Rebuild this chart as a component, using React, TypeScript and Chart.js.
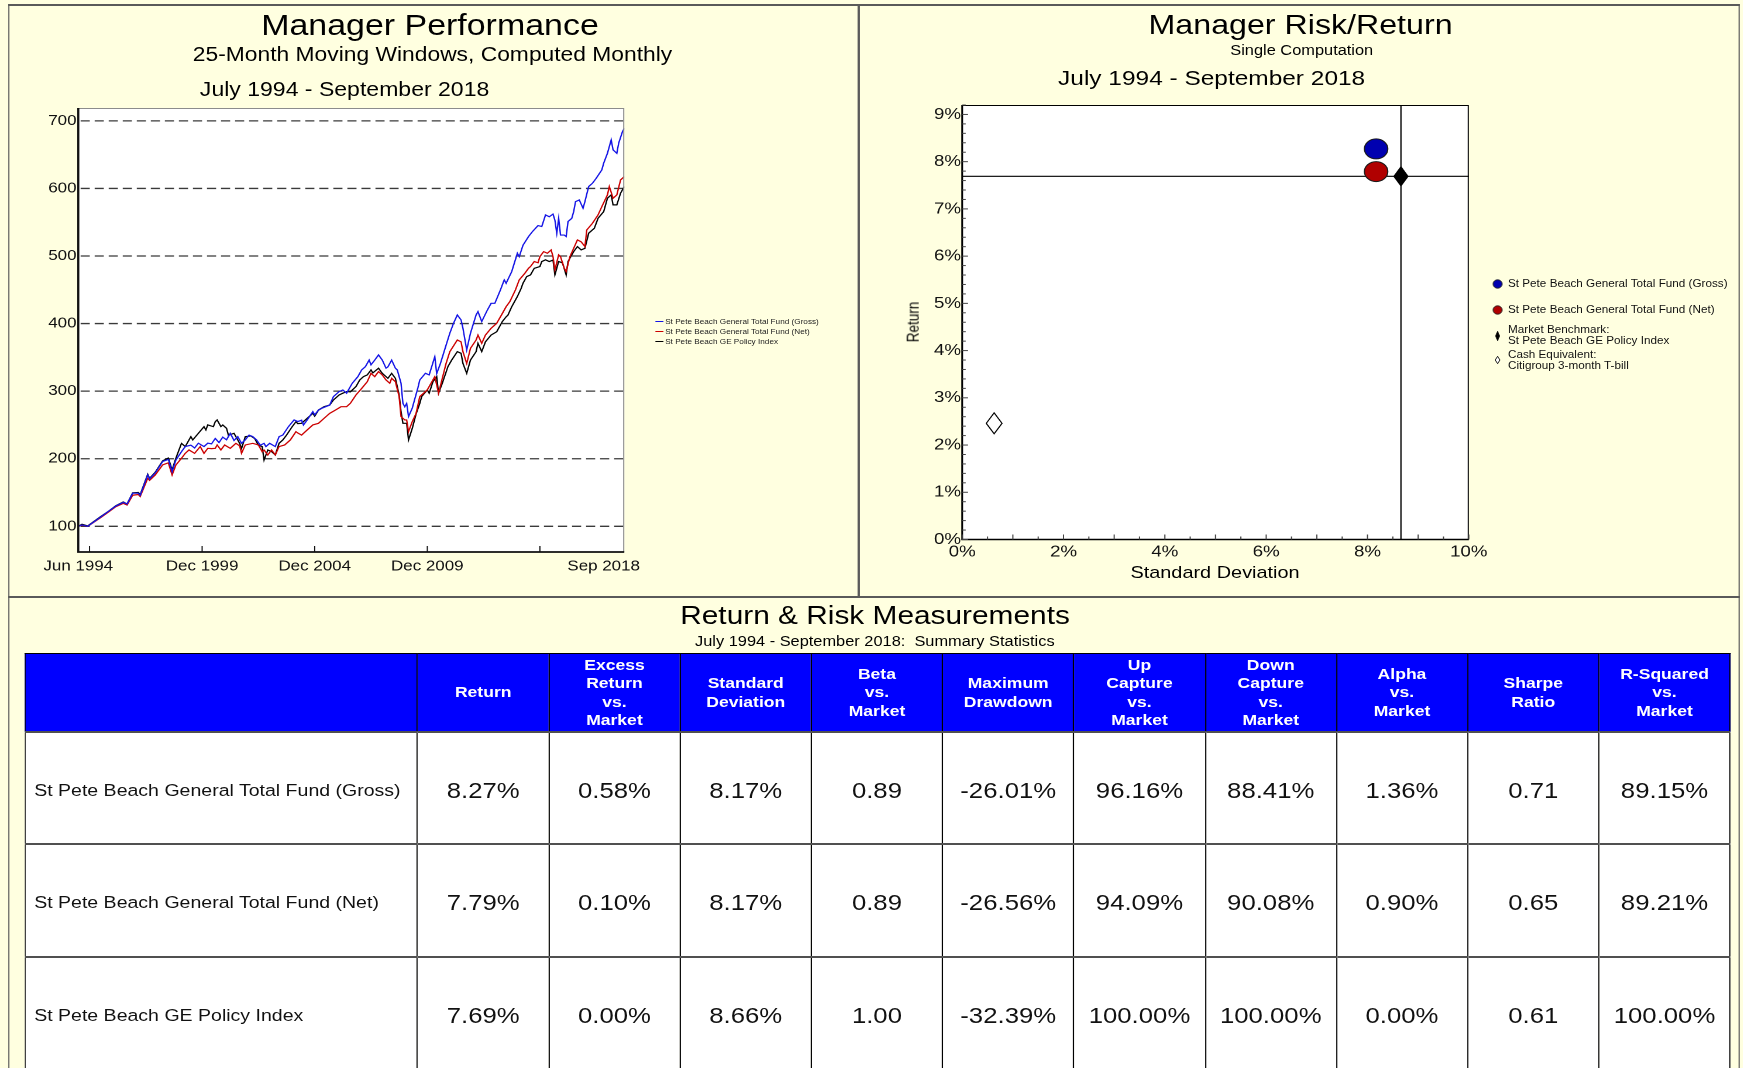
import React, { useEffect, useRef } from 'react';
import { Chart, registerables } from 'chart.js';

Chart.register(...registerables);

// The reference is horizontally stretched; everything is laid out in base units and stretched by K.
const K = 1.17;
const BG = '#FFFFE0';
const FONT = '"Liberation Sans", Arial, Helvetica, sans-serif';

// ---------------- Manager Performance (growth of 100) ----------------
const seriesNames = [
  'St Pete Beach General Total Fund (Gross)',
  'St Pete Beach General Total Fund (Net)',
  'St Pete Beach GE Policy Index',
];
const seriesColors = ['#1414E6', '#CC0000', '#000000'];

// month index: 0 = Jun 1994 ... 291 = Sep 2018
const grossMonths = [0, 2, 5, 12, 16, 20, 24, 26, 29, 32, 33, 37, 38, 41, 45, 48, 50, 52, 55, 57, 60, 62, 64, 67, 69, 71, 73, 75, 77, 79, 81, 83, 85, 87, 89, 91, 93, 95, 97, 99, 100, 102, 105, 107, 109, 112, 115, 117, 119, 120, 122, 125, 126, 128, 130, 134, 136, 139, 141, 143, 146, 149, 151, 153, 155, 156, 158, 160, 162, 164, 165, 167, 169, 170, 172, 173, 174, 175, 176, 178, 179, 181, 182, 185, 187, 190, 191, 193, 196, 198, 200, 202, 204, 205, 207, 209, 212, 213, 215, 218, 220, 222, 225, 227, 228, 231, 234, 235, 237, 240, 242, 245, 247, 249, 251, 253, 254, 255, 256, 257, 259, 260, 261, 263, 264, 265, 267, 269, 270, 272, 274, 276, 279, 280, 282, 284, 285, 287, 288, 290, 291];
const grossValues = [100, 102, 100, 114, 122, 130, 135.5, 133, 149, 149, 146, 176, 170, 179, 196, 199, 181, 198, 210.5, 218, 220, 216, 223, 218, 223, 222, 230, 224, 232, 228, 237.6, 227, 232.7, 222.8, 228, 235, 232.7, 228, 220, 222.8, 218, 222.8, 218, 232.7, 235, 247.5, 257.4, 255, 257, 250, 257.4, 269.7, 265, 272, 275, 279.5, 292, 299.4, 301.8, 297, 311.7, 321.5, 331.4, 336.3, 346, 339, 346, 353.6, 346, 334, 336, 346, 334, 331.4, 311.7, 282, 277, 282, 262.3, 275, 285, 305, 316.6, 326.4, 324, 351, 326, 341, 368, 385.7, 400.5, 412.8, 405.4, 393, 361, 385.7, 412.8, 417.7, 403, 420, 430, 430, 450, 464.7, 459.7, 477, 504, 499, 516, 529, 536, 545, 543.6, 560.8, 558, 562, 553, 533.7, 555.8, 531, 531, 528.8, 551, 555.8, 565.7, 580.5, 583, 570.6, 580.5, 602.8, 607.6, 615, 627.4, 637.3, 652, 671.8, 657, 652, 667, 684, 689];

const netMonths = [0, 2, 5, 12, 16, 20, 24, 26, 29, 32, 33, 37, 38, 41, 45, 48, 50, 52, 55, 57, 59, 62, 65, 67, 69, 71, 73, 74, 76, 78, 81, 84, 86, 87, 89, 93, 96, 98, 99, 101, 103, 105, 107, 110, 113, 116, 117, 119, 122, 125, 128, 132, 134, 137, 140, 143, 145, 148, 151, 154, 156, 158, 160, 162, 164, 166, 167, 169, 171, 172, 174, 175, 176, 178, 180, 182, 186, 190, 192, 196, 198, 202, 204, 205, 207, 209, 212, 213, 215, 217, 220, 223, 226, 228, 230, 233, 235, 238, 240, 241, 243, 245, 246, 248, 250, 252, 253, 254, 256, 257, 259, 260, 262, 264, 266, 268, 270, 271, 274, 277, 279, 282, 283, 285, 287, 289, 291];
const netValues = [100, 101.5, 100, 113, 121, 129, 134, 131.5, 146, 147, 144, 171, 168, 176, 191, 194, 176, 190.7, 200.6, 208, 213, 208, 218, 208, 215.4, 215, 215.4, 220.4, 213, 220.4, 215.4, 222.8, 219, 208, 220.4, 222.8, 220.4, 210.5, 213, 205.6, 213, 205.6, 218, 220.4, 227.8, 240, 238, 235, 242.6, 250, 252.4, 262.3, 267.2, 272, 277, 277, 282, 294.4, 304, 314, 326.4, 321.5, 329, 324, 316.6, 311.7, 319, 314, 292, 262.3, 257.4, 257.4, 240, 255, 267, 292, 301.8, 321.5, 297, 341, 358.4, 375.7, 373, 358.4, 341, 363.4, 375.7, 383, 370.8, 383, 393, 400.5, 415, 425, 432.6, 450, 464.7, 474.5, 482, 484.4, 491.8, 490, 499, 506.5, 504, 509, 499, 479.4, 501.6, 499, 481.8, 477, 499, 511.4, 523.8, 521, 514, 538.6, 548.4, 560.8, 573, 590.4, 602.8, 585.5, 590.4, 612.6, 617.5];

const indexMonths = [0, 2, 5, 12, 16, 20, 24, 26, 29, 32, 33, 37, 38, 41, 45, 48, 50, 52, 55, 57, 60, 61, 64, 67, 68, 69, 72, 73, 74, 76, 77, 79, 80, 83, 84, 86, 87, 89, 92, 94, 96, 98, 99, 101, 103, 105, 107, 109, 111, 114, 116, 117, 119, 122, 125, 126, 128, 131, 134, 136, 139, 141, 143, 145, 148, 150, 152, 154, 156, 157, 160, 162, 164, 165, 167, 169, 171, 172, 173, 175, 176, 178, 180, 182, 183, 186, 187, 189, 191, 192, 194, 197, 199, 202, 204, 205, 207, 209, 212, 213, 215, 217, 220, 223, 226, 228, 229, 231, 234, 236, 237, 239, 241, 243, 246, 247, 249, 251, 253, 254, 256, 258, 260, 261, 264, 266, 268, 270, 272, 275, 277, 280, 282, 284, 285, 287, 289, 291];
const indexValues = [100, 103, 100.5, 114.5, 122, 130.5, 136, 133, 149.5, 150, 147, 177, 171, 180, 197, 201, 183.4, 200.6, 222.8, 218, 232.7, 227.8, 237.6, 247.5, 242.6, 250, 247.5, 254.8, 257.4, 247.5, 250, 245, 235, 237.6, 232.7, 222.8, 215, 232.7, 233.7, 230, 220, 218, 198, 213, 210.5, 205.6, 222.8, 227.8, 235, 247.5, 254.8, 252, 252.4, 259.8, 267.2, 263, 272, 277, 279.5, 287, 294.4, 297, 299.4, 299, 306.8, 316.6, 321.5, 324, 331.4, 327, 334, 326.4, 321.5, 319, 326.4, 319, 294.4, 269.7, 252.4, 252.4, 227.8, 245, 266, 282, 292, 301.8, 297, 314, 321.5, 297, 311.7, 336.3, 346, 358.5, 356, 341, 326.4, 346, 358.5, 370.8, 358.5, 373, 383, 388, 403, 410, 412.7, 425, 440, 452, 459.7, 469.6, 472, 481.8, 484.4, 491.8, 494.3, 491.8, 494, 472, 491.8, 490, 472, 491.8, 506.5, 514, 509, 511.4, 533.7, 541, 555.8, 565.7, 585.5, 590.4, 575.6, 575.6, 593, 602.8];

const perfYTicks = [100, 200, 300, 400, 500, 600, 700];
const perfYMin = 62;
const perfYMax = 719;
const perfXMax = 291;
const perfXLabelMonths = [0, 66, 126, 186, 280];
const perfXLabels = ['Jun 1994', 'Dec 1999', 'Dec 2004', 'Dec 2009', 'Sep 2018'];
const perfXTickMonths = [6, 66, 126, 186, 246];

// ---------------- Manager Risk/Return ----------------
const riskLegendLines = [
  ['St Pete Beach General Total Fund (Gross)'],
  ['St Pete Beach General Total Fund (Net)'],
  ['Market Benchmark:', 'St Pete Beach GE Policy Index'],
  ['Cash Equivalent:', 'Citigroup 3-month T-bill'],
];
const riskStdDev = [8.17, 8.17, 8.66, 0.63];
const riskReturn = [8.27, 7.79, 7.69, 2.46];
const riskColors = ['#0000B0', '#B00000', '#000000', '#FFFFFF'];
const riskMarkers = ['circle', 'circle', 'diamond', 'diamond'];
const riskXTicks = [0, 2, 4, 6, 8, 10];
const riskYTicks = [0, 1, 2, 3, 4, 5, 6, 7, 8, 9];
const riskXMax = 10;
const riskYMax = 9.2;
const benchmarkIndex = 2;

// ---------------- Table ----------------
const tableHeaders = [
  '',
  'Return',
  'Excess\nReturn\nvs.\nMarket',
  'Standard\nDeviation',
  'Beta\nvs.\nMarket',
  'Maximum\nDrawdown',
  'Up\nCapture\nvs.\nMarket',
  'Down\nCapture\nvs.\nMarket',
  'Alpha\nvs.\nMarket',
  'Sharpe\nRatio',
  'R-Squared\nvs.\nMarket',
];
const tableRowNames = [
  'St Pete Beach General Total Fund (Gross)',
  'St Pete Beach General Total Fund (Net)',
  'St Pete Beach GE Policy Index',
];
const grossStats = ['8.27%', '0.58%', '8.17%', '0.89', '-26.01%', '96.16%', '88.41%', '1.36%', '0.71', '89.15%'];
const netStats = ['7.79%', '0.10%', '8.17%', '0.89', '-26.56%', '94.09%', '90.08%', '0.90%', '0.65', '89.21%'];
const indexStats = ['7.69%', '0.00%', '8.66%', '1.00', '-32.39%', '100.00%', '100.00%', '0.00%', '0.61', '100.00%'];
const tableStats = [grossStats, netStats, indexStats];

// ---------------- plugins ----------------
const perfDecor = {
  id: 'perfDecor',
  beforeDraw(chart: any) {
    const { ctx, chartArea: a } = chart;
    ctx.save();
    ctx.fillStyle = '#FFFFFF';
    ctx.fillRect(a.left, a.top, a.right - a.left, a.bottom - a.top);
    ctx.restore();
  },
  beforeDatasetsDraw(chart: any) {
    const { ctx, chartArea: a, scales } = chart;
    ctx.save();
    ctx.strokeStyle = '#3a3a3a';
    ctx.lineWidth = 1.3;
    ctx.setLineDash([7.8, 4.2]);
    perfYTicks.forEach((v) => {
      const y = scales.y.getPixelForValue(v);
      ctx.beginPath();
      ctx.moveTo(a.left + 2, y);
      ctx.lineTo(a.right, y);
      ctx.stroke();
    });
    ctx.restore();
  },
  afterDatasetsDraw(chart: any) {
    const { ctx, chartArea: a, scales } = chart;
    ctx.save();
    ctx.strokeStyle = '#8c8c8c';
    ctx.lineWidth = 1;
    ctx.beginPath();
    ctx.moveTo(a.left, a.top + 0.5);
    ctx.lineTo(a.right - 0.5, a.top + 0.5);
    ctx.lineTo(a.right - 0.5, a.bottom);
    ctx.stroke();
    ctx.strokeStyle = '#111';
    ctx.lineWidth = 1.8;
    ctx.beginPath();
    ctx.moveTo(a.left, a.top);
    ctx.lineTo(a.left, a.bottom);
    ctx.lineTo(a.right, a.bottom);
    ctx.stroke();
    ctx.lineWidth = 1;
    perfXTickMonths.forEach((m) => {
      const x = scales.x.getPixelForValue(m);
      ctx.beginPath();
      ctx.moveTo(x, a.bottom);
      ctx.lineTo(x, a.bottom - 6);
      ctx.stroke();
    });
    ctx.restore();
  },
};

const riskDecor = {
  id: 'riskDecor',
  beforeDraw(chart: any) {
    const { ctx, chartArea: a } = chart;
    ctx.save();
    ctx.fillStyle = '#FFFFFF';
    ctx.fillRect(a.left, a.top, a.right - a.left, a.bottom - a.top);
    ctx.restore();
  },
  beforeDatasetsDraw(chart: any) {
    const { ctx, chartArea: a, scales } = chart;
    const bx = scales.x.getPixelForValue(riskStdDev[benchmarkIndex]);
    const by = scales.y.getPixelForValue(riskReturn[benchmarkIndex]);
    ctx.save();
    ctx.strokeStyle = '#000';
    ctx.lineWidth = 1.1;
    ctx.beginPath();
    ctx.moveTo(a.left, by);
    ctx.lineTo(a.right, by);
    ctx.moveTo(bx, a.top);
    ctx.lineTo(bx, a.bottom);
    ctx.stroke();
    ctx.restore();
  },
  afterDatasetsDraw(chart: any) {
    const { ctx, chartArea: a, scales } = chart;
    ctx.save();
    riskMarkers.forEach((mk, i) => {
      if (mk !== 'diamond') return;
      const meta = chart.getDatasetMeta(i);
      const w = i === benchmarkIndex ? 12 : 13.5;
      const h = i === benchmarkIndex ? 19 : 21;
      meta.data.forEach((el: any) => {
        ctx.beginPath();
        ctx.moveTo(el.x, el.y - h / 2);
        ctx.lineTo(el.x + w / 2, el.y);
        ctx.lineTo(el.x, el.y + h / 2);
        ctx.lineTo(el.x - w / 2, el.y);
        ctx.closePath();
        ctx.fillStyle = riskColors[i];
        ctx.fill();
        ctx.strokeStyle = '#000';
        ctx.lineWidth = 1;
        ctx.stroke();
      });
    });
    // frame
    ctx.strokeStyle = '#000';
    ctx.lineWidth = 1;
    ctx.strokeRect(a.left, a.top + 0.5, a.right - a.left - 0.5, a.bottom - a.top - 0.5);
    ctx.lineWidth = 1.5;
    ctx.beginPath();
    ctx.moveTo(a.left, a.top);
    ctx.lineTo(a.left, a.bottom);
    ctx.lineTo(a.right, a.bottom);
    ctx.stroke();
    // inward tick marks
    ctx.lineWidth = 1;
    ctx.strokeStyle = '#444';
    for (let k = 0; k <= Math.round(riskYMax * 5); k++) {
      const v = k / 5;
      const y = scales.y.getPixelForValue(v);
      const len = k % 5 === 0 ? 5 : 3;
      ctx.beginPath();
      ctx.moveTo(a.left, y);
      ctx.lineTo(a.left + len, y);
      ctx.stroke();
    }
    for (let k = 0; k <= riskXMax * 2; k++) {
      const v = k / 2;
      const x = scales.x.getPixelForValue(v);
      const len = k % 2 === 0 ? 5 : 3;
      ctx.beginPath();
      ctx.moveTo(x, a.bottom);
      ctx.lineTo(x, a.bottom - len);
      ctx.stroke();
    }
    ctx.restore();
  },
};

function PerfChart() {
  const ref = useRef<HTMLCanvasElement>(null);
  useEffect(() => {
    const canvas = ref.current as HTMLCanvasElement;
    const pairs = (ms: number[], vs: number[]) => ms.map((m, i) => ({ x: m, y: vs[i] }));
    const seriesData = [
      pairs(grossMonths, grossValues),
      pairs(netMonths, netValues),
      pairs(indexMonths, indexValues),
    ];
    const chart = new Chart(canvas, {
      type: 'line',
      data: {
        datasets: seriesNames.map((name, i) => ({
          label: name,
          data: seriesData[i],
          borderColor: seriesColors[i],
          backgroundColor: seriesColors[i],
          borderWidth: 1.2,
          pointRadius: 0,
          tension: 0,
          fill: false,
        })),
      },
      options: {
        animation: false,
        responsive: false,
        devicePixelRatio: 2,
        events: [],
        layout: { padding: { left: 0, top: 108, right: 199.4, bottom: 0 } },
        plugins: { legend: { display: false }, tooltip: { enabled: false } },
        scales: {
          x: {
            type: 'linear',
            min: 0,
            max: perfXMax,
            grid: { display: false, drawTicks: false },
            border: { display: false },
            afterBuildTicks: (s: any) => {
              s.ticks = perfXLabelMonths.map((v) => ({ value: v }));
            },
            afterFit: (s: any) => {
              s.height = 45;
            },
            ticks: {
              autoSkip: false,
              maxRotation: 0,
              padding: 6,
              color: '#111',
              font: { family: FONT, size: 14.5 },
              callback: (v: any) => {
                const idx = perfXLabelMonths.indexOf(Number(v));
                return idx >= 0 ? perfXLabels[idx] : '';
              },
            },
          },
          y: {
            type: 'linear',
            min: perfYMin,
            max: perfYMax,
            grid: { display: false, drawTicks: false },
            border: { display: false },
            afterBuildTicks: (s: any) => {
              s.ticks = perfYTicks.map((v) => ({ value: v }));
            },
            afterFit: (s: any) => {
              s.width = 66.9;
            },
            ticks: {
              padding: 1.5,
              color: '#111',
              font: { family: FONT, size: 14.5 },
              callback: (v: any) => String(v),
            },
          },
        },
      } as any,
      plugins: [perfDecor],
    });
    return () => chart.destroy();
  }, []);
  return (
    <canvas
      ref={ref}
      width={733}
      height={597}
      style={{ position: 'absolute', left: 0, top: 0, width: 733, height: 597 }}
    />
  );
}

function RiskChart() {
  const ref = useRef<HTMLCanvasElement>(null);
  useEffect(() => {
    const canvas = ref.current as HTMLCanvasElement;
    const chart = new Chart(canvas, {
      type: 'scatter',
      data: {
        datasets: riskLegendLines.map((lines, i) => ({
          label: lines.join(' '),
          data: [{ x: riskStdDev[i], y: riskReturn[i] }],
          pointStyle: 'circle',
          pointRadius: riskMarkers[i] === 'circle' ? 10 : 0,
          backgroundColor: riskColors[i],
          borderColor: '#1a1a1a',
          borderWidth: 1,
        })),
      },
      options: {
        animation: false,
        responsive: false,
        devicePixelRatio: 2,
        events: [],
        layout: { padding: { left: 0, top: 105, right: 231.6, bottom: 0 } },
        plugins: { legend: { display: false }, tooltip: { enabled: false } },
        scales: {
          x: {
            type: 'linear',
            min: 0,
            max: riskXMax,
            grid: { display: false, drawTicks: false },
            border: { display: false },
            afterBuildTicks: (s: any) => {
              s.ticks = riskXTicks.map((v) => ({ value: v }));
            },
            afterFit: (s: any) => {
              s.height = 57.5;
            },
            ticks: {
              autoSkip: false,
              maxRotation: 0,
              padding: 3,
              color: '#111',
              font: { family: FONT, size: 16 },
              callback: (v: any) => `${v}%`,
            },
          },
          y: {
            type: 'linear',
            min: 0,
            max: riskYMax,
            grid: { display: false, drawTicks: false },
            border: { display: false },
            afterBuildTicks: (s: any) => {
              s.ticks = riskYTicks.map((v) => ({ value: v }));
            },
            afterFit: (s: any) => {
              s.width = 88.4;
            },
            ticks: {
              padding: 1,
              color: '#111',
              font: { family: FONT, size: 16 },
              callback: (v: any) => `${v}%`,
            },
          },
        },
      } as any,
      plugins: [riskDecor],
    });
    return () => chart.destroy();
  }, []);
  return (
    <canvas
      ref={ref}
      width={753}
      height={597}
      style={{ position: 'absolute', left: 734.2, top: 0, width: 753, height: 597 }}
    />
  );
}

function Label(props: { x: number; y: number; size: number; text: string; bold?: boolean; pre?: boolean }) {
  return (
    <div
      style={{
        position: 'absolute',
        left: props.x,
        top: props.y,
        transform: 'translate(-50%, -50%)',
        fontSize: props.size,
        fontWeight: props.bold ? 'bold' : 'normal',
        whiteSpace: props.pre ? 'pre' : 'nowrap',
        lineHeight: 1,
        color: '#000',
      }}
    >
      {props.text}
    </div>
  );
}

function Line(props: { x: number; y: number; w: number; h: number }) {
  return (
    <div
      style={{ position: 'absolute', left: props.x, top: props.y, width: props.w, height: props.h, background: '#5a5a5a' }}
    />
  );
}

function RiskLegendMarker(props: { i: number }) {
  const i = props.i;
  const mk = riskMarkers[i];
  return (
    <svg width={12} height={14} style={{ position: 'absolute', left: -6, top: -7 }}>
      {mk === 'circle' ? (
        <ellipse cx={6} cy={7} rx={3.9} ry={4.2} fill={riskColors[i]} stroke="#222" strokeWidth={0.8} />
      ) : i === benchmarkIndex ? (
        <polygon points="6,2.3 7.7,7 6,11.7 4.3,7" fill={riskColors[i]} stroke="#000" strokeWidth={0.7} />
      ) : (
        <polygon points="6,3.3 8,7 6,10.7 4,7" fill={riskColors[i]} stroke="#000" strokeWidth={0.8} />
      )}
    </svg>
  );
}

export default function App() {
  const W = 1743 / K;
  const perfLegendY = [321.7, 331.7, 341.7];
  const riskLegendMarkerY = [284, 310, 335.5, 360];
  const riskLegendTextY = [[284], [310], [330, 341], [354.5, 366]];
  const colW = [335.5, 112.2, 112.2, 112.2, 112.2, 112.2, 112.2, 112.2, 112.2, 112.2, 112.2];

  return (
    <div style={{ position: 'absolute', left: 0, top: 0, width: 1743, height: 1068, overflow: 'hidden', background: BG }}>
      <div
        style={{
          position: 'absolute',
          left: 0,
          top: 0,
          width: W,
          height: 1068,
          transform: `scaleX(${K})`,
          transformOrigin: '0 0',
          fontFamily: FONT,
          color: '#000',
        }}
      >
        {/* panel frames */}
        <Line x={6.8} y={4} w={1480} h={2} />
        <Line x={6.8} y={4} w={1.7} h={1064} />
        <Line x={733.3} y={4} w={1.7} h={593} />
        <Line x={1485.6} y={4} w={1.7} h={1064} />
        <Line x={6.8} y={596} w={1480} h={2} />

        {/* Left: Manager Performance */}
        <PerfChart />
        <Label x={367.5} y={24.5} size={29} text="Manager Performance" />
        <Label x={369.7} y={54.5} size={19.5} text="25-Month Moving Windows, Computed Monthly" />
        <Label x={294.5} y={90} size={19.7} text="July 1994 - September 2018" />
        {seriesNames.map((n, i) => (
          <div
            key={n}
            style={{
              position: 'absolute',
              left: 559.8,
              top: perfLegendY[i] - 5,
              height: 10,
              display: 'flex',
              alignItems: 'center',
              fontSize: 7,
              whiteSpace: 'nowrap',
              color: '#222',
            }}
          >
            <span style={{ display: 'inline-block', width: 7, height: 1.2, background: seriesColors[i], marginRight: 1.7 }} />
            <span>{n}</span>
          </div>
        ))}

        {/* Right: Manager Risk/Return */}
        <RiskChart />
        <Label x={1111.6} y={24.5} size={27.5} text="Manager Risk/Return" />
        <Label x={1112.6} y={50} size={14} text="Single Computation" />
        <Label x={1035.6} y={77.8} size={20.9} text="July 1994 - September 2018" />
        <Label x={1038.5} y={572} size={17} text="Standard Deviation" />
        <div
          style={{
            position: 'absolute',
            left: 781.2,
            top: 322,
            transform: 'translate(-50%, -50%) rotate(-90deg)',
            fontSize: 13.5,
            lineHeight: 1,
            whiteSpace: 'nowrap',
          }}
        >
          Return
        </div>
        {riskLegendLines.map((lines, i) => (
          <React.Fragment key={i}>
            <div style={{ position: 'absolute', left: 1280.3, top: riskLegendMarkerY[i], width: 0, height: 0 }}>
              <RiskLegendMarker i={i} />
            </div>
            {lines.map((t, j) => (
              <div
                key={j}
                style={{
                  position: 'absolute',
                  left: 1288.9,
                  top: riskLegendTextY[i][j],
                  transform: 'translateY(-50%)',
                  fontSize: 10,
                  lineHeight: 1,
                  whiteSpace: 'nowrap',
                  color: '#111',
                }}
              >
                {t}
              </div>
            ))}
          </React.Fragment>
        ))}

        {/* Bottom: Return & Risk Measurements */}
        <Label x={747.9} y={615.5} size={25.5} text="Return & Risk Measurements" />
        <Label x={747.7} y={641} size={14} pre text={'July 1994 - September 2018:  Summary Statistics'} />
        <div style={{ position: 'absolute', left: 20.9, top: 652.5, width: 1460, height: 1068 - 652.5, overflow: 'hidden' }}>
          <table style={{ borderCollapse: 'collapse', tableLayout: 'fixed', width: 1457.7, fontFamily: FONT }}>
            <colgroup>
              {colW.map((w, i) => (
                <col key={i} style={{ width: w }} />
              ))}
            </colgroup>
            <thead>
              <tr style={{ height: 79 }}>
                {tableHeaders.map((h, i) => (
                  <th
                    key={i}
                    style={{
                      background: '#0000FF',
                      color: '#FFFFFF',
                      border: '1px solid #000',
                      fontWeight: 'bold',
                      fontSize: 15,
                      lineHeight: '18.6px',
                      whiteSpace: 'pre-line',
                      padding: '1px 0 0 0',
                      verticalAlign: 'middle',
                      textAlign: 'center',
                    }}
                  >
                    {h}
                  </th>
                ))}
              </tr>
            </thead>
            <tbody>
              {tableRowNames.map((name, r) => (
                <tr key={name} style={{ height: 112.3 }}>
                  <td
                    style={{
                      background: '#FFFFFF',
                      borderLeft: '1px solid #000',
                      borderRight: '1px solid #000',
                      borderTop: '2px solid #505050',
                      padding: '5px 0 0 7.3px',
                      fontSize: 16.7,
                      whiteSpace: 'nowrap',
                      color: '#111',
                      verticalAlign: 'middle',
                    }}
                  >
                    {name}
                  </td>
                  {tableStats[r].map((v, c) => (
                    <td
                      key={c}
                      style={{
                        background: '#FFFFFF',
                        borderLeft: '1px solid #000',
                        borderRight: '1px solid #000',
                        borderTop: '2px solid #505050',
                        padding: '6px 0 0 0',
                        fontSize: 22,
                        textAlign: 'center',
                        whiteSpace: 'nowrap',
                        color: '#111',
                        verticalAlign: 'middle',
                      }}
                    >
                      {v}
                    </td>
                  ))}
                </tr>
              ))}
            </tbody>
          </table>
        </div>
      </div>
    </div>
  );
}
